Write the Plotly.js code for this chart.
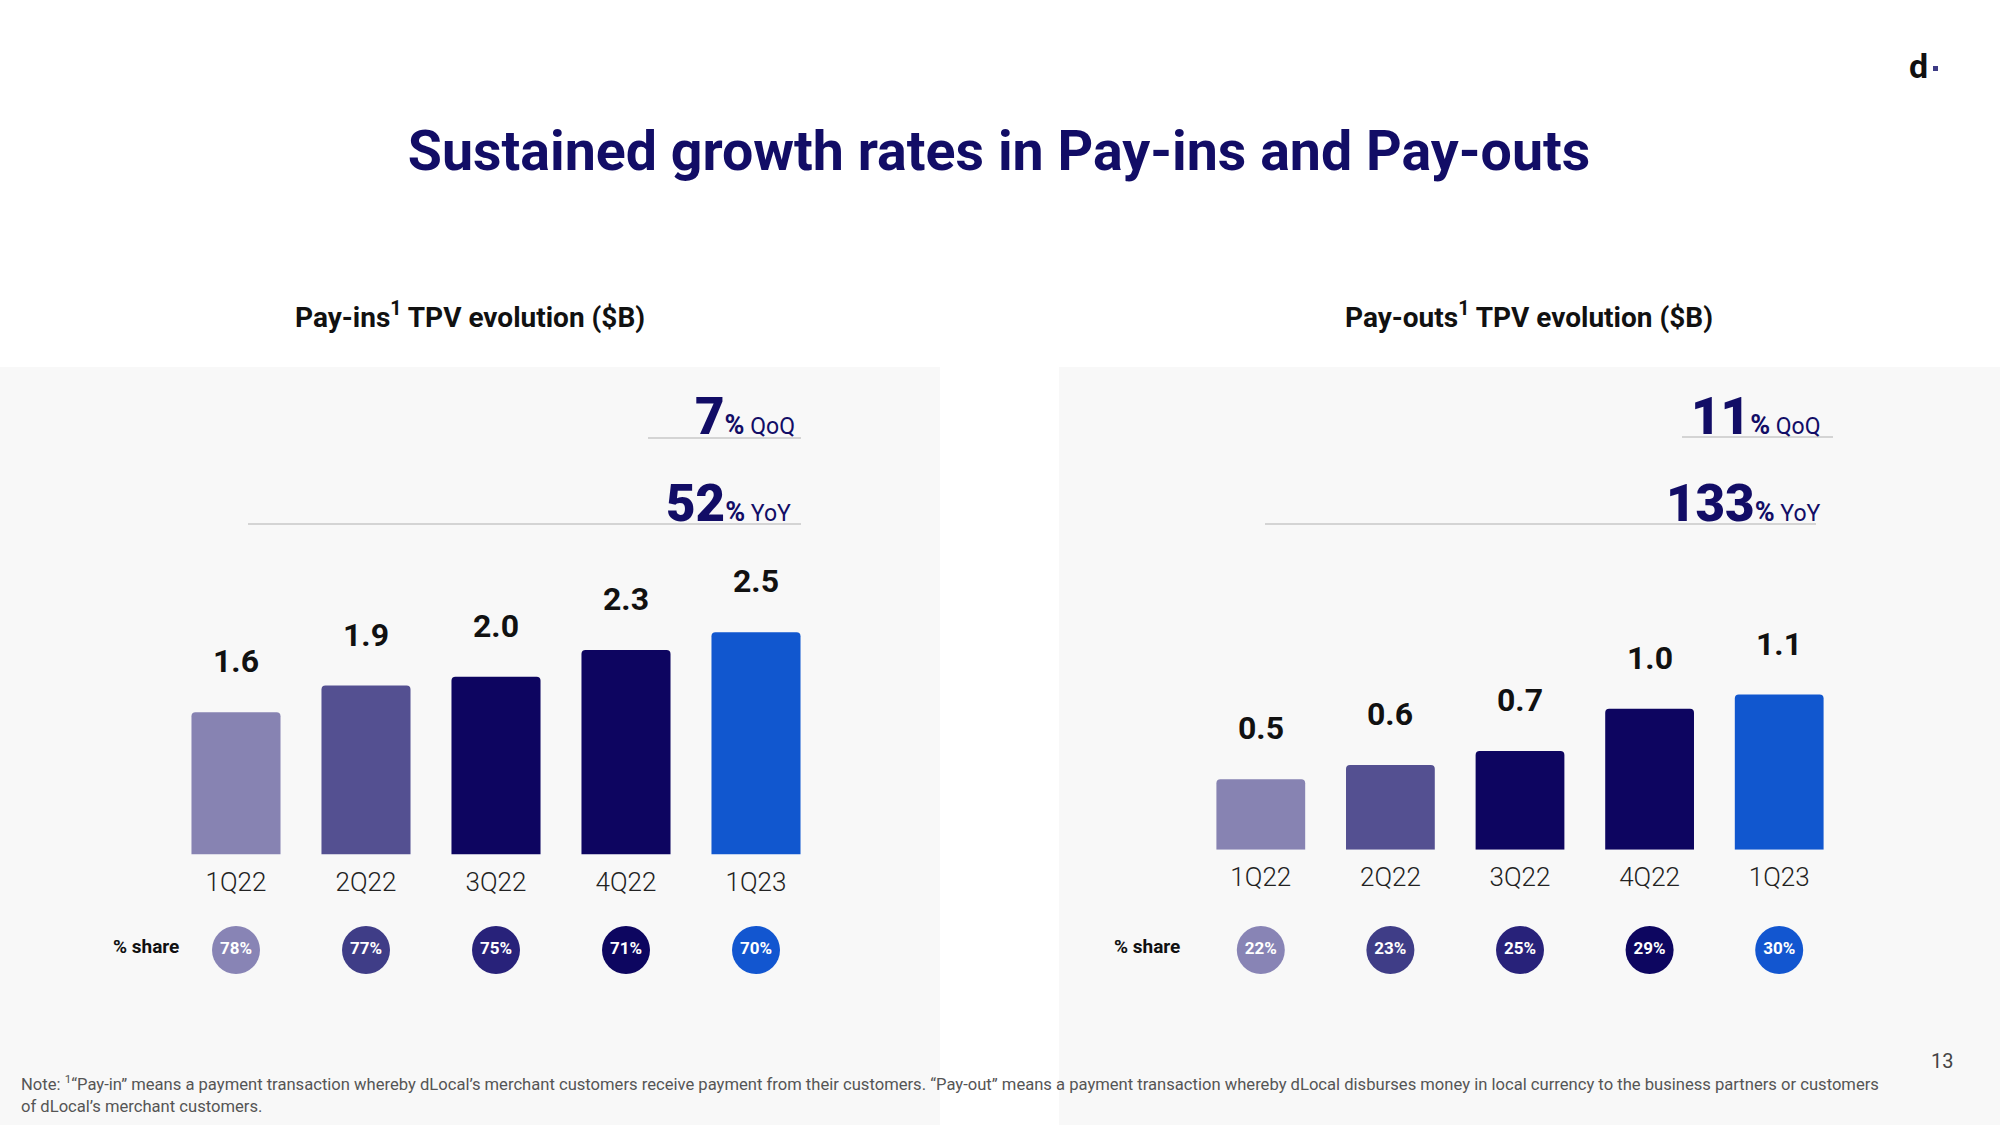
<!DOCTYPE html>
<html>
<head>
<meta charset="utf-8">
<script src="https://cdn.plot.ly/plotly-3.0.1.min.js"></script>
<style>html,body{margin:0;padding:0;background:#fff;}#chart{width:2000px;height:1125px;}</style>
</head>
<body>
<div id="chart"></div>
<script>
// ---- data ----
const quarters = ['1Q22', '2Q22', '3Q22', '4Q22', '1Q23'];
const payinTPV = [1.6, 1.9, 2.0, 2.3, 2.5];
const payoutTPV = [0.5, 0.6, 0.7, 1.0, 1.1];
const payinShare = [78, 77, 75, 71, 70];
const payoutShare = [22, 23, 25, 29, 30];
const payinQoQ = 7, payinYoY = 52;
const payoutQoQ = 11, payoutYoY = 133;

// ---- styles ----
const barColors = ['#8783b2', '#545091', '#0d0560', '#0d0560', '#1157cf'];
const circleColors = ['#8884b5', '#3f3d87', '#28227a', '#0d0660', '#1256d0'];
const navy = '#120d66';
const W = 2000, H = 1125;
const px = v => v / W;
const py = v => 1 - v / H;
const FONT = 'Roboto, "Open Sans", sans-serif';

function barTrace(vals, xa, ya) {
  return {
    type: 'bar', x: quarters, y: vals, xaxis: xa, yaxis: ya,
    marker: {color: barColors, cornerradius: 4},
    hoverinfo: 'skip', showlegend: false
  };
}
function shareTrace(vals, xa, ya) {
  return {
    type: 'scatter', mode: 'markers+text', x: quarters, y: vals.map(() => 0.5),
    xaxis: xa, yaxis: ya, cliponaxis: false,
    marker: {size: 48, color: circleColors, line: {width: 0}},
    text: vals.map(v => '<b>' + v + '%</b>'), textposition: 'middle center',
    textfont: {family: FONT, size: 17, color: '#ffffff'},
    hoverinfo: 'skip', showlegend: false
  };
}

const data = [
  barTrace(payinTPV, 'x', 'y'),
  barTrace(payoutTPV, 'x2', 'y2'),
  shareTrace(payinShare, 'x', 'y3'),
  shareTrace(payoutShare, 'x2', 'y4')
];

const annotations = [];
function valueLabels(vals, xr, yr) {
  vals.forEach((v, i) => annotations.push({
    x: quarters[i], y: v, xref: xr, yref: yr, text: '<b>' + v.toFixed(1) + '</b>',
    showarrow: false, yanchor: 'middle', yshift: 51,
    font: {family: FONT, size: 32, color: '#111111'}
  }));
}
valueLabels(payinTPV, 'x', 'y');
valueLabels(payoutTPV, 'x2', 'y2');

function growth(val, label, xRight, yMid) {
  annotations.push({
    x: px(xRight), y: py(yMid), xref: 'paper', yref: 'paper', xanchor: 'right', yanchor: 'middle',
    showarrow: false,
    text: val + '<span style="font-size:27px;font-weight:700">%</span><span style="font-size:23px;font-weight:400"> ' + label + '</span>',
    font: {family: FONT, size: 51, color: navy, weight: 900}
  });
}
growth(payinQoQ, 'QoQ', 797, 416);
growth(payinYoY, 'YoY', 793, 504);
growth(payoutQoQ, 'QoQ', 1823, 416);
growth(payoutYoY, 'YoY', 1823, 504);

const textAnn = (text, x, y, size, color, xanchor, extra) => annotations.push(Object.assign({
  x: px(x), y: py(y), xref: 'paper', yref: 'paper', xanchor: xanchor || 'center', yanchor: 'middle',
  showarrow: false, text: text, font: {family: FONT, size: size, color: color}
}, extra || {}));

textAnn('<b>Pay-ins<sup>1</sup> TPV evolution ($B)</b>', 470, 315, 28, '#111111');
textAnn('<b>Pay-outs<sup>1</sup> TPV evolution ($B)</b>', 1529, 315, 28, '#111111');
textAnn('<b>% share</b>', 146, 946, 19, '#111111');
textAnn('<b>% share</b>', 1147, 946, 19, '#111111');
textAnn('13', 1942, 1061, 20, '#444444');
textAnn('<b>d</b>', 1918, 66, 34, '#111111');
textAnn('Note: <sup>1</sup>\u201cPay-in\u201d means a payment transaction whereby dLocal\u2019s merchant customers receive payment from their customers. \u201cPay-out\u201d means a payment transaction whereby dLocal disburses money in local currency to the business partners or customers<br>of dLocal\u2019s merchant customers.',
  19, 1094, 16.6, '#555555', 'left', {align: 'left'});

const lineShape = (x0, x1, y) => ({type: 'line', xref: 'paper', yref: 'paper', x0: px(x0), x1: px(x1), y0: py(y), y1: py(y), line: {color: '#d4d4d4', width: 2}, layer: 'below'});
const shapes = [
  {type: 'rect', xref: 'paper', yref: 'paper', x0: 0, x1: px(940), y0: 0, y1: py(367), fillcolor: '#f8f8f8', line: {width: 0}, layer: 'below'},
  {type: 'rect', xref: 'paper', yref: 'paper', x0: px(1059), x1: 1, y0: 0, y1: py(367), fillcolor: '#f8f8f8', line: {width: 0}, layer: 'below'},
  lineShape(648, 801, 438),
  lineShape(248, 801, 524),
  lineShape(1682, 1833, 437),
  lineShape(1265, 1816, 524),
  {type: 'rect', xref: 'paper', yref: 'paper', x0: px(1933), x1: px(1938), y0: py(71), y1: py(66), fillcolor: '#3d3b85', line: {width: 0}}
];

const xBase = {type: 'category', showgrid: false, zeroline: false, showline: false,
  ticks: 'outside', ticklen: 4, tickcolor: 'rgba(0,0,0,0)',
  tickfont: {family: FONT, size: 26, color: '#222222', weight: 300}, fixedrange: true};
const yBase = {showgrid: false, zeroline: false, showline: false, showticklabels: false, ticks: '', fixedrange: true};

const layout = {
  width: W, height: H,
  margin: {l: 0, r: 0, t: 0, b: 0},
  paper_bgcolor: '#ffffff', plot_bgcolor: 'rgba(0,0,0,0)',
  font: {family: FONT},
  title: {text: '<b>Sustained growth rates in Pay-ins and Pay-outs</b>', x: 0.4995, xanchor: 'center',
    y: py(151), yanchor: 'middle', yref: 'container', font: {family: FONT, size: 55.5, color: navy}},
  bargap: 0.315,
  xaxis: Object.assign({}, xBase, {domain: [px(171), px(821)], anchor: 'y', range: [-0.5, 4.5]}),
  xaxis2: Object.assign({}, xBase, {domain: [px(1196), px(1844)], anchor: 'y2', range: [-0.5, 4.5]}),
  yaxis: Object.assign({}, yBase, {domain: [py(854.6), py(367)], anchor: 'x', range: [0, 5.48]}),
  yaxis2: Object.assign({}, yBase, {domain: [py(849.7), py(367)], anchor: 'x2', range: [0, 3.423]}),
  yaxis3: Object.assign({}, yBase, {domain: [py(975), py(925)], anchor: 'x', range: [0, 1]}),
  yaxis4: Object.assign({}, yBase, {domain: [py(975), py(925)], anchor: 'x2', range: [0, 1]}),
  annotations: annotations,
  shapes: shapes
};

Plotly.newPlot('chart', data, layout, {displayModeBar: false, staticPlot: true});
</script>
</body>
</html>
